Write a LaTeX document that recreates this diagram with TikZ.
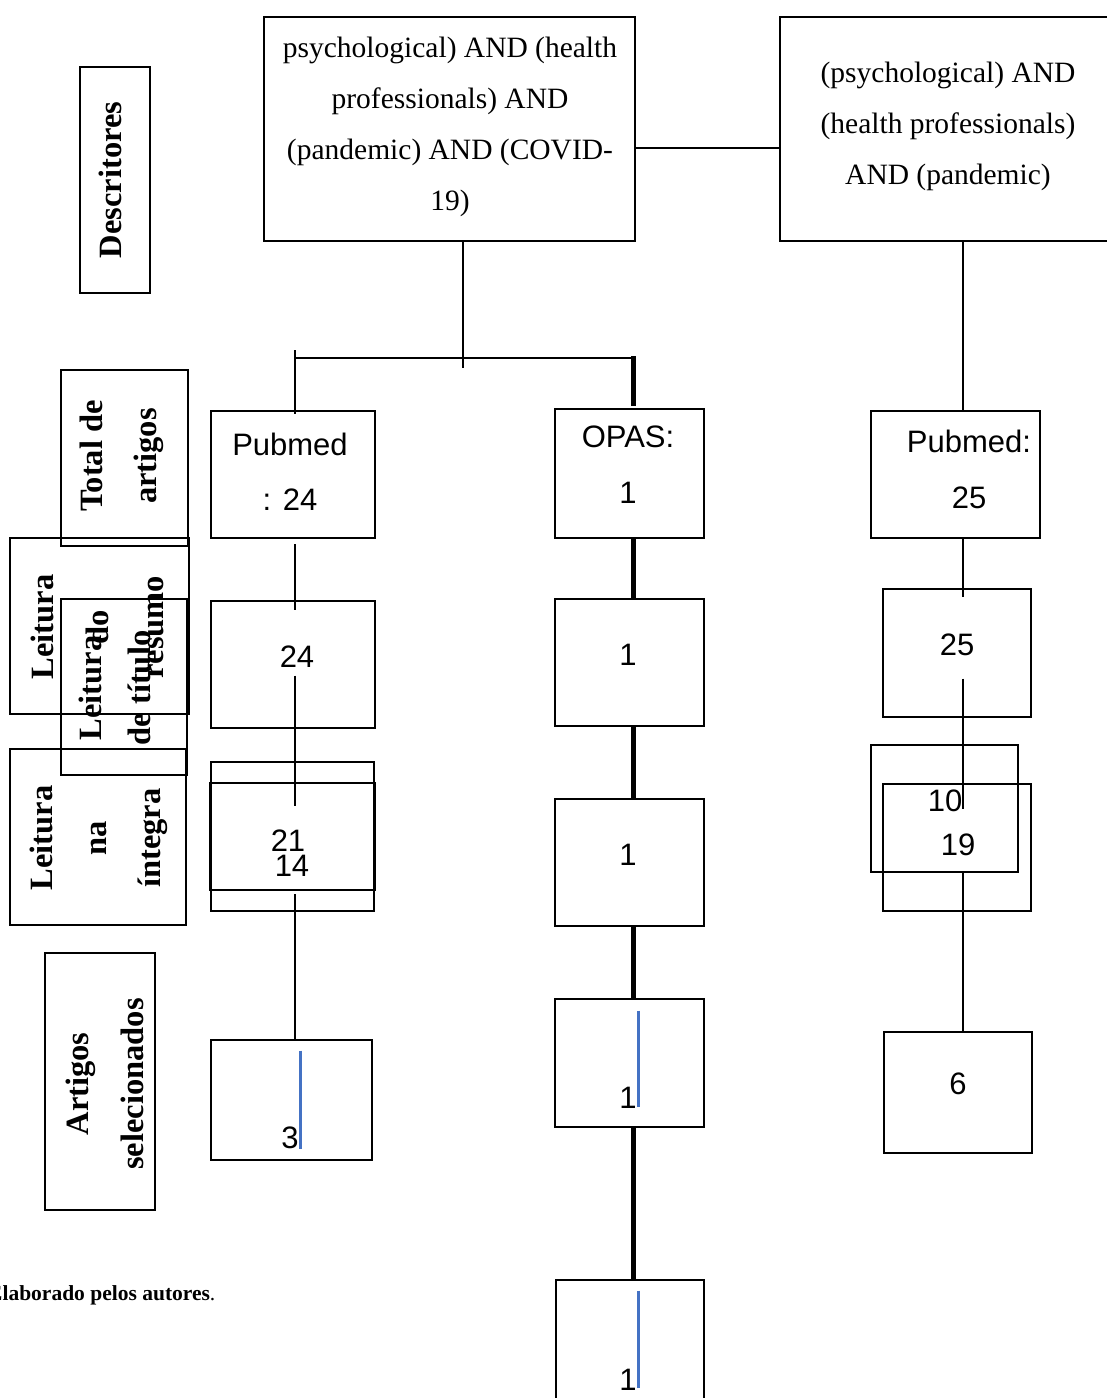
\documentclass[tikz,border=0pt]{standalone}
\usepackage{fontspec}
\setmainfont{Liberation Serif}
\newfontfamily\arialf{Liberation Sans}
\usetikzlibrary{calc}
\definecolor{wblue}{HTML}{4472C4}
\begin{document}
\begin{tikzpicture}[x=1pt,y=-1pt,
  box/.style={draw, line width=2.8pt, inner sep=0pt},
  conn/.style={line width=1.3pt},
  thickconn/.style={line width=5pt},
  bluel/.style={wblue, line width=3pt},
  sertxt/.style={align=center, inner sep=0pt, font=\fontsize{29.5}{51}\selectfont},
  sanstxt/.style={align=center, inner sep=0pt, font=\arialf\fontsize{31}{56}\selectfont},
  lab/.style={rotate=90, align=center, inner sep=0pt},
]
\useasboundingbox (0,0) rectangle (1107,1398);

% top query boxes
\node[box, minimum width=371, minimum height=224] (q1) at (449.5,129) {};
\node[box, minimum width=332, minimum height=224] (q2) at (946,129) {};
\node[sertxt] (tq1) at (450,126.5) {psychological) AND (health\\professionals) AND\\(pandemic) AND (COVID-\\19)};
\node[sertxt] (tq2) at (948,126) {(psychological) AND\\(health professionals)\\AND (pandemic)};

% left label boxes
\node[box, minimum width=70, minimum height=226] (L1) at (115,180) {};
\node[box, minimum width=127, minimum height=176] (L2) at (124.5,458) {};
\node[box, minimum width=179, minimum height=176] (L3) at (99.5,626) {};
\node[box, minimum width=126, minimum height=176] (L4) at (124,687) {};
\node[box, minimum width=176, minimum height=176] (L5) at (98,837) {};
\node[box, minimum width=110, minimum height=257] (L6) at (100,1081.5) {};
\node[lab, font=\fontsize{32.5}{52}\selectfont\bfseries] (tL1) at (110,180) {Descritores};
\node[lab, font=\fontsize{32.5}{54}\selectfont\bfseries] (tL2) at (122,456) {Total de\\artigos};
\node[lab, font=\fontsize{32.5}{55}\selectfont\bfseries] (tL3) at (97.5,627) {Leitura\\do\\resumo};
\node[lab, font=\fontsize{32.5}{49}\selectfont\bfseries] (tL4) at (115,688) {Leitura\\de título};
\node[lab, font=\fontsize{32.5}{54}\selectfont\bfseries] (tL5) at (99,838) {Leitura\\na\\íntegra};
\node[lab, font=\fontsize{32.5}{55}\selectfont\bfseries] (tL6) at (105,1084) {Artigos\\selecionados};

% left column
\node[box, minimum width=164, minimum height=127] (p1) at (293,474.5) {};
\node[box, minimum width=164, minimum height=127] (p2) at (293,664.5) {};
\node[box, minimum width=163, minimum height=149] (p3a) at (292.5,836.5) {};
\node[box, minimum width=165, minimum height=107] (p3b) at (292.5,836.5) {};
\node[box, minimum width=161, minimum height=120] (p4) at (291.5,1100) {};
\node[sanstxt, font=\arialf\fontsize{31}{55}\selectfont] (tp1) at (290,472) {Pubmed\\: 24};
\node[sanstxt] (tp2) at (297,657) {24};
\node[sanstxt] (tp3a) at (288,841) {21};
\node[sanstxt] (tp3b) at (292,866) {14};
\node[sanstxt] (tp4) at (290,1138) {3};

% middle column
\node[box, minimum width=149, minimum height=129] (o1) at (629.5,473.5) {};
\node[box, minimum width=149, minimum height=127] (o2) at (629.5,662.5) {};
\node[box, minimum width=149, minimum height=127] (o3) at (629.5,862.5) {};
\node[box, minimum width=149, minimum height=128] (o4) at (629.5,1063) {};
\node[box, minimum width=148, minimum height=130] (o5) at (630,1345) {};
\node[sanstxt] (to1) at (628,465) {OPAS:\\1};
\node[sanstxt] (to2) at (628,655) {1};
\node[sanstxt] (to3) at (628,855) {1};
\node[sanstxt] (to4) at (628,1098) {1};
\node[sanstxt] (to5) at (628,1380) {1};

% right column
\node[box, minimum width=169, minimum height=127] (r1) at (955.5,474.5) {};
\node[box, minimum width=148, minimum height=128] (r2) at (957,653) {};
\node[box, minimum width=147, minimum height=127] (r3a) at (944.5,808.5) {};
\node[box, minimum width=148, minimum height=127] (r3b) at (957,847.5) {};
\node[box, minimum width=148, minimum height=121] (r4) at (958,1092.5) {};
\node[sanstxt] (tr1) at (969,469) {Pubmed:\\25};
\node[sanstxt] (tr2) at (957,645) {25};
\node[sanstxt] (tr3a) at (945,801) {10};
\node[sanstxt] (tr3b) at (958,845) {19};
\node[sanstxt] (tr4) at (958,1084) {6};

% caption
\node[anchor=base west, inner sep=0pt, font=\fontsize{21.5}{25}\selectfont] (cap) at (-12,1300) {\textbf{Elaborado pelos autores}.};

% connectors at top
\coordinate (j1) at (463,368);
\coordinate (bl) at (295,358);
\coordinate (br) at (632,358);
\coordinate (lt) at (295,350);
\coordinate (rt) at (633,356);
\draw[conn] ($(q1.east)+(0,19)$) -- ($(q2.west)+(0,19)$);
\draw[conn] ($(q1.south)+(13.5,0)$) -- (j1);
\draw[conn] (bl) -- (br);
\draw[conn] (lt) -- ($(p1.north)+(2,4)$);
\draw[thickconn] (rt) -- ($(o1.north)+(3.5,-2)$);

% left column connectors
\draw[conn] ($(p1.south)+(2,5)$) -- ($(p2.north)+(2,10)$);
\draw[conn] ($(p2.north)+(2,76)$) -- ($(p3b.north)+(2.5,24)$);
\draw[conn] ($(p3b.south)+(2.5,3)$) -- ($(p4.north)+(3.5,0)$);
\draw[bluel] ($(p4.north)+(8.5,12)$) -- ($(p4.south)+(8.5,-12)$);

% middle column connectors
\draw[thickconn] ($(o1.south)+(3.5,0)$) -- ($(o2.north)+(3.5,0)$);
\draw[thickconn] ($(o2.south)+(3.5,0)$) -- ($(o3.north)+(3.5,0)$);
\draw[thickconn] ($(o3.south)+(3.5,0)$) -- ($(o4.north)+(3.5,0)$);
\draw[thickconn] ($(o4.south)+(3.5,0)$) -- ($(o5.north)+(3,0)$);
\draw[bluel] ($(o4.north)+(8.5,13)$) -- ($(o4.north)+(8.5,109)$);
\draw[bluel] ($(o5.north)+(8,12)$) -- ($(o5.north)+(8,109)$);

% right column connectors
\draw[conn] ($(q2.south)+(17,0)$) -- ($(r1.north)+(7.5,0)$);
\draw[conn] ($(r1.south)+(7.5,0)$) -- ($(r2.north)+(6,9)$);
\draw[conn] ($(r2.north)+(6,91)$) -- ($(r3b.north)+(6,26)$);
\draw[conn] ($(r3a.south)+(18.5,0)$) -- ($(r4.north)+(5,0)$);
\end{tikzpicture}
\end{document}
